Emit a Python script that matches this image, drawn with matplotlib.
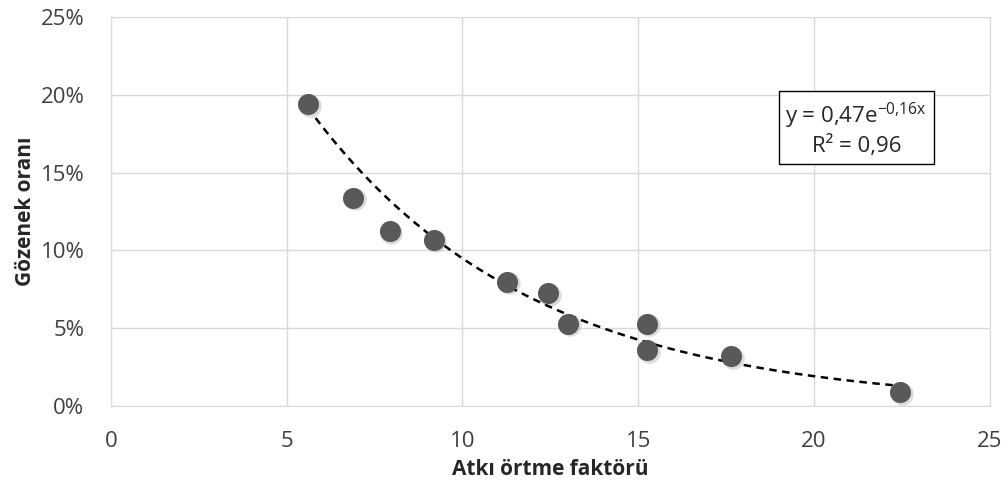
import numpy as np
import matplotlib.pyplot as plt
from matplotlib.ticker import PercentFormatter

plt.rcParams['font.family'] = ['Open Sans', 'DejaVu Sans']

# Atkı örtme faktörü vs gözenek oranı
x_vals = np.array([5.6, 6.88, 7.93, 9.18, 11.28, 12.44, 13.0, 15.26, 15.26, 17.64, 22.45])
y_vals = np.array([0.194, 0.134, 0.1125, 0.107, 0.080, 0.0726, 0.053, 0.053, 0.036, 0.032, 0.009])

x_ticks = [0, 5, 10, 15, 20, 25]
y_ticks = [0, 0.05, 0.10, 0.15, 0.20, 0.25]

# exponential trend (as shown in the chart)
a, b = 0.47, -0.16
xt = np.linspace(x_vals.min(), x_vals.max(), 200)
yt = a * np.exp(b * xt)

fig = plt.figure(figsize=(10.08, 4.88), dpi=100)
ax = fig.add_axes([0.110, 0.168, 0.872, 0.797])

ax.plot(xt, yt, '--', color='black', lw=1.8, dashes=(3, 2.2), zorder=3)
# soft shadow under markers
ax.scatter(x_vals + 0.05, y_vals - 0.0012, s=260, color='#bbbbbb', alpha=0.5, zorder=2, linewidths=0)
ax.scatter(x_vals, y_vals, s=230, color='#595959', zorder=4, linewidths=0)

ax.set_xlim(0, 25)
ax.set_ylim(0, 0.25)
ax.set_xticks(x_ticks)
ax.set_yticks(y_ticks)
ax.yaxis.set_major_formatter(PercentFormatter(1.0, decimals=0))
ax.grid(True, color='#d9d9d9', lw=1)
ax.set_axisbelow(True)
for s in ax.spines.values():
    s.set_color('#d9d9d9')
ax.tick_params(length=0, labelsize=16, colors='#404040')
ax.tick_params(axis='x', pad=18)
ax.tick_params(axis='y', pad=19)

ax.set_xlabel('Atkı örtme faktörü', fontsize=15, fontweight='bold', color='#262626', labelpad=5)
ax.set_ylabel('Gözenek oranı', fontsize=15, fontweight='bold', color='#262626', labelpad=3)

ax.text(21.2, 0.178, 'y = 0,47e$^{\\mathregular{-0{,}16x}}$\nR² = 0,96', fontsize=16,
        ha='center', va='center', color='#262626', linespacing=1.25,
        bbox=dict(boxstyle='square,pad=0.3', fc='white', ec='black', lw=1))

fig.savefig('out.png', dpi=100)
